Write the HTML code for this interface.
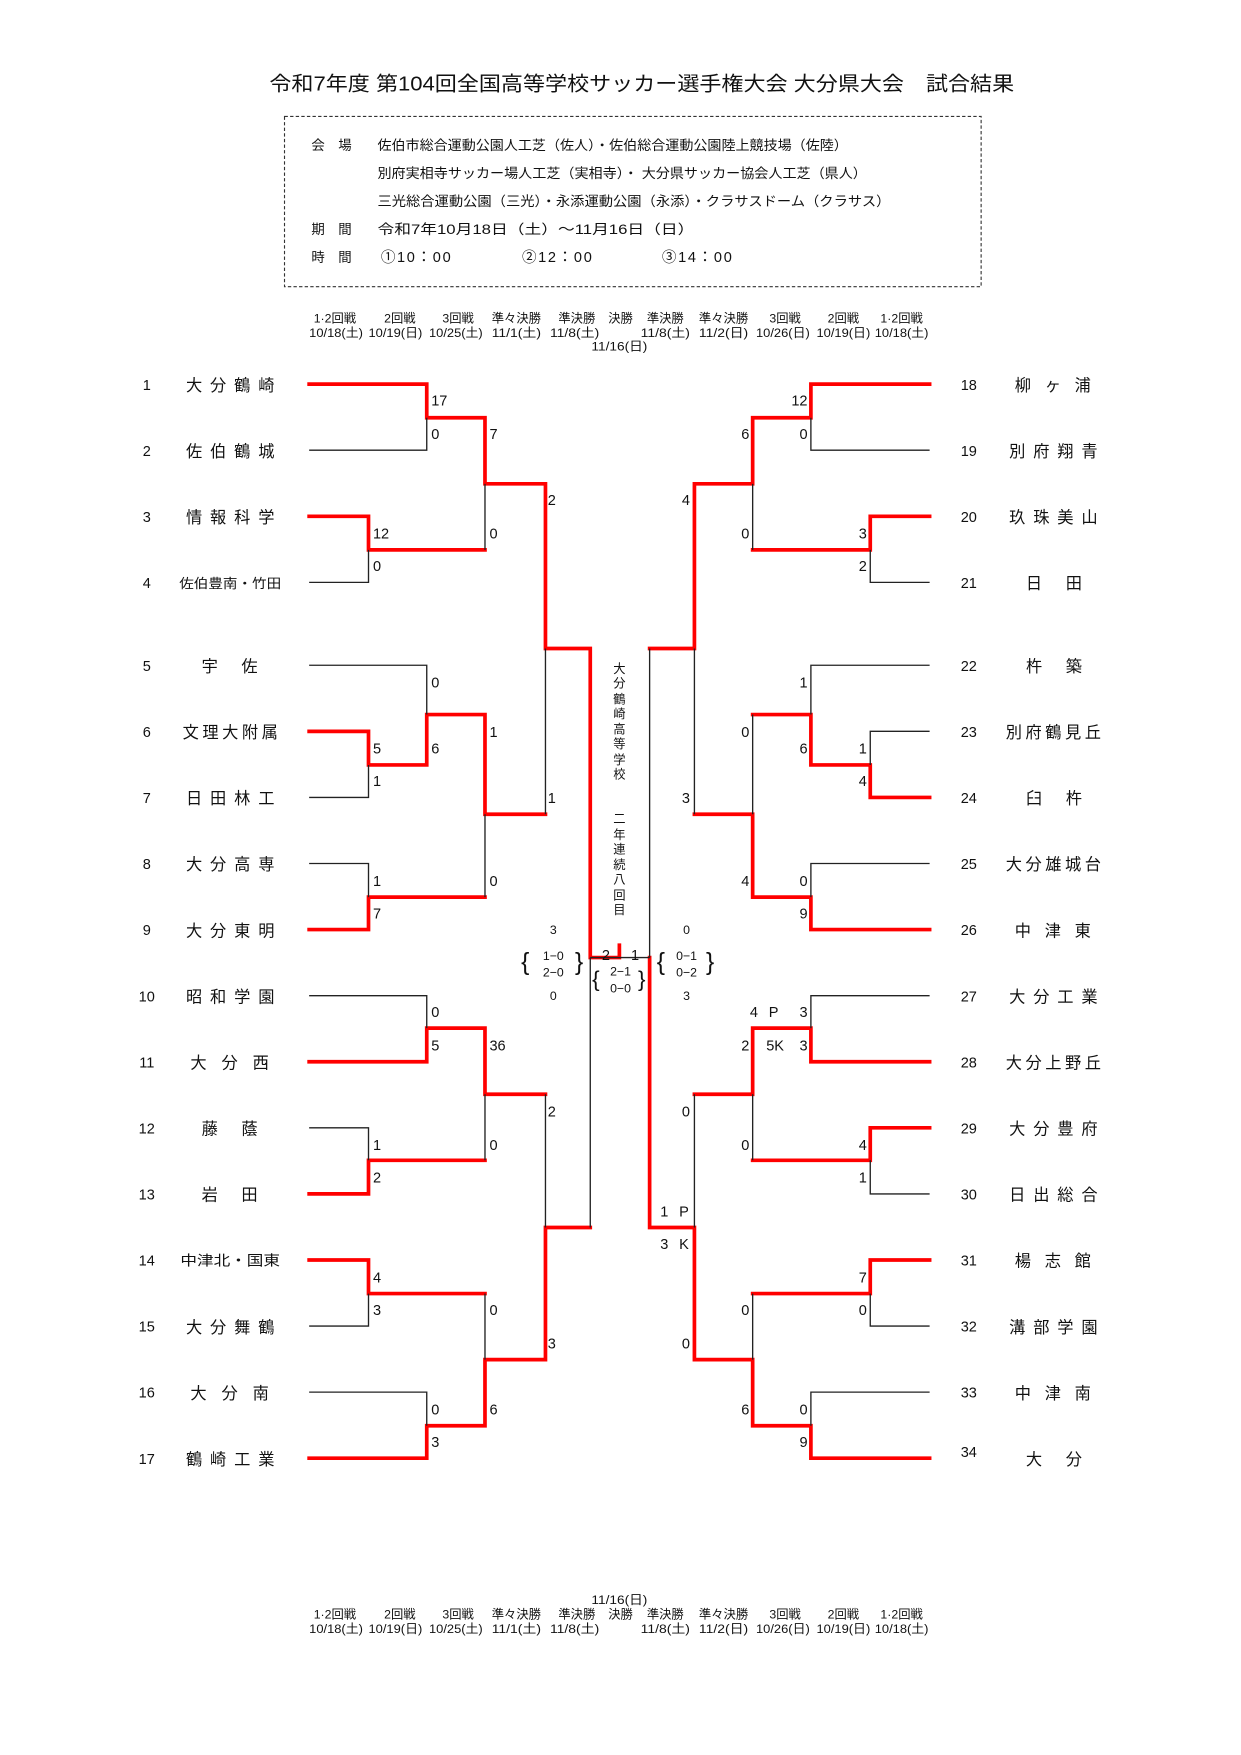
<!DOCTYPE html>
<html><head><meta charset="utf-8"><style>
html,body{margin:0;padding:0;background:#fff}
svg{display:block}
text{font-family:"Liberation Sans","Noto Sans CJK JP",sans-serif;fill:#111}
.r{fill:none;stroke:#f00;stroke-width:3.3;stroke-linecap:square}
.b{fill:none;stroke:#222;stroke-width:1.2}
.s{font-size:13px}
.n{font-size:13px}
.t{font-size:14.5px}
.h{font-size:11px}
.i{font-size:12px}
</style></head><body>
<svg width="1241" height="1755" viewBox="0 0 1108 1567" xmlns="http://www.w3.org/2000/svg">
<text x="573" y="81" text-anchor="middle" font-size="18" textLength="665" lengthAdjust="spacingAndGlyphs">令和7年度 第104回全国高等学校サッカー選手権大会 大分県大会　試合結果</text>
<rect x="254" y="104" width="622" height="152" fill="none" stroke="#333" stroke-width="1" stroke-dasharray="3,2"/>
<g class="i">
<text x="278" y="134">会　場</text><text x="337" y="134" textLength="420" lengthAdjust="spacingAndGlyphs">佐伯市総合運動公園人工芝（佐人）・佐伯総合運動公園陸上競技場（佐陸）</text>
<text x="337" y="159" textLength="437" lengthAdjust="spacingAndGlyphs">別府実相寺サッカー場人工芝（実相寺）・ 大分県サッカー協会人工芝（県人）</text>
<text x="337" y="184" textLength="458" lengthAdjust="spacingAndGlyphs">三光総合運動公園（三光）・永添運動公園（永添）・クラサスドーム（クラサス）</text>
<text x="278" y="209">期　間</text><text x="337" y="209" textLength="283" lengthAdjust="spacingAndGlyphs">令和7年10月18日（土）～11月16日（日）</text>
<text x="278" y="234">時　間</text><text x="340" y="234" font-size="13" letter-spacing="1.5">①10：00</text><text x="466" y="234" font-size="13" letter-spacing="1.5">②12：00</text><text x="591" y="234" font-size="13" letter-spacing="1.5">③14：00</text>
</g>
<g class="h" text-anchor="middle">
<g id="hdr">
<text x="299" y="288">1·2回戦</text><text x="357" y="288">2回戦</text><text x="409" y="288">3回戦</text><text x="461" y="288">準々決勝</text><text x="515" y="288">準決勝</text><text x="554" y="288">決勝</text><text x="594" y="288">準決勝</text><text x="646" y="288">準々決勝</text><text x="701" y="288">3回戦</text><text x="753" y="288">2回戦</text><text x="805" y="288">1·2回戦</text>
<text x="300" y="301" textLength="48" lengthAdjust="spacingAndGlyphs">10/18(土)</text><text x="353" y="301" textLength="48" lengthAdjust="spacingAndGlyphs">10/19(日)</text><text x="407" y="301" textLength="48" lengthAdjust="spacingAndGlyphs">10/25(土)</text><text x="461" y="301" textLength="44" lengthAdjust="spacingAndGlyphs">11/1(土)</text><text x="513" y="301" textLength="44" lengthAdjust="spacingAndGlyphs">11/8(土)</text><text x="594" y="301" textLength="44" lengthAdjust="spacingAndGlyphs">11/8(土)</text><text x="646" y="301" textLength="44" lengthAdjust="spacingAndGlyphs">11/2(日)</text><text x="699" y="301" textLength="48" lengthAdjust="spacingAndGlyphs">10/26(日)</text><text x="753" y="301" textLength="48" lengthAdjust="spacingAndGlyphs">10/19(日)</text><text x="805" y="301" textLength="48" lengthAdjust="spacingAndGlyphs">10/18(土)</text>
</g>
<text x="553" y="313" textLength="50" lengthAdjust="spacingAndGlyphs">11/16(日)</text>
<text x="553" y="1432" textLength="50" lengthAdjust="spacingAndGlyphs">11/16(日)</text>
<use href="#hdr" transform="translate(0,1157)"/>
</g>

<path class="r" d="M276 343H381V373H433V432H487V579H527V855H553V844"/>
<path class="r" d="M276 461H329V491H433"/>
<path class="r" d="M276 653H329V683H381V638H433V727H487"/>
<path class="r" d="M276 830H329V801H433"/>
<path class="r" d="M276 948H381V918H433V977H487"/>
<path class="r" d="M276 1066H329V1036H433"/>
<path class="r" d="M276 1125H329V1155H433"/>
<path class="r" d="M276 1302H381V1273H433V1214H487V1096H527"/>
<path class="r" d="M830 343H724V373H672V432H620V579H580"/>
<path class="r" d="M830 461H777V491H672"/>
<path class="r" d="M830 712H777V683H724V638H672"/>
<path class="r" d="M830 830H724V801H672V727H620"/>
<path class="r" d="M830 948H724V918H672V977H620"/>
<path class="r" d="M830 1007H777V1036H672"/>
<path class="r" d="M830 1125H777V1155H672"/>
<path class="r" d="M830 1302H724V1273H672V1214H620V1096H580V855"/>
<path class="b" d="M276 402H381V373M276 520H329V491M433 491V432M276 594H381V638M276 712H329V683M276 771H329V801M433 801V727M487 727V579M276 889H381V918M276 1007H329V1036M433 1036V977M276 1184H329V1155M276 1243H381V1273M433 1155V1214M487 977V1096M527 855V1096M527 855H580M580 579V855"/>
<path class="b" d="M830 402H724V373M830 520H777V491M672 432V491M620 579V727M830 594H724V638M830 653H777V683M672 638V727M830 771H724V801M830 889H724V918M672 1036V977M830 1066H777V1036M620 977V1096M830 1184H777V1155M830 1243H724V1273M672 1155V1214"/>

<g class="n" text-anchor="middle">
<text x="131" y="348">1</text><text x="131" y="407">2</text><text x="131" y="466">3</text><text x="131" y="525">4</text><text x="131" y="599">5</text><text x="131" y="658">6</text><text x="131" y="717">7</text><text x="131" y="776">8</text><text x="131" y="835">9</text><text x="131" y="894">10</text><text x="131" y="953">11</text><text x="131" y="1012">12</text><text x="131" y="1071">13</text><text x="131" y="1130">14</text><text x="131" y="1189">15</text><text x="131" y="1248">16</text><text x="131" y="1307">17</text>
<text x="865" y="348">18</text><text x="865" y="407">19</text><text x="865" y="466">20</text><text x="865" y="525">21</text><text x="865" y="599">22</text><text x="865" y="658">23</text><text x="865" y="717">24</text><text x="865" y="776">25</text><text x="865" y="835">26</text><text x="865" y="894">27</text><text x="865" y="953">28</text><text x="865" y="1012">29</text><text x="865" y="1071">30</text><text x="865" y="1130">31</text><text x="865" y="1189">32</text><text x="865" y="1248">33</text><text x="865" y="1301">34</text>
</g>
<g class="t" lengthAdjust="spacing">
<text x="166" y="349" textLength="79">大分鶴崎</text>
<text x="166" y="408" textLength="79">佐伯鶴城</text>
<text x="166" y="467" textLength="79">情報科学</text>
<text x="160" y="525" font-size="11.5" textLength="91" lengthAdjust="spacingAndGlyphs">佐伯豊南・竹田</text>
<text x="180" y="600" textLength="50">宇佐</text>
<text x="163" y="659" textLength="85">文理大附属</text>
<text x="166" y="718" textLength="79">日田林工</text>
<text x="166" y="777" textLength="79">大分高専</text>
<text x="166" y="836" textLength="79">大分東明</text>
<text x="166" y="895" textLength="79">昭和学園</text>
<text x="170" y="954" textLength="70">大分西</text>
<text x="180" y="1013" textLength="50">藤蔭</text>
<text x="180" y="1072" textLength="50">岩田</text>
<text x="161" y="1130" font-size="12.5" textLength="89" lengthAdjust="spacingAndGlyphs">中津北・国東</text>
<text x="166" y="1190" textLength="79">大分舞鶴</text>
<text x="170" y="1249" textLength="70">大分南</text>
<text x="166" y="1308" textLength="79">鶴崎工業</text>
<text x="906" y="349" textLength="68">柳ヶ浦</text>
<text x="901" y="408" textLength="79">別府翔青</text>
<text x="901" y="467" textLength="79">玖珠美山</text>
<text x="916" y="526" textLength="50">日田</text>
<text x="916" y="600" textLength="50">杵築</text>
<text x="898" y="659" textLength="85">別府鶴見丘</text>
<text x="916" y="718" textLength="50">臼杵</text>
<text x="898" y="777" textLength="85">大分雄城台</text>
<text x="906" y="836" textLength="68">中津東</text>
<text x="901" y="895" textLength="79">大分工業</text>
<text x="898" y="954" textLength="85">大分上野丘</text>
<text x="901" y="1013" textLength="79">大分豊府</text>
<text x="901" y="1072" textLength="79">日出総合</text>
<text x="906" y="1131" textLength="68">楊志館</text>
<text x="901" y="1190" textLength="79">溝部学園</text>
<text x="906" y="1249" textLength="68">中津南</text>
<text x="916" y="1308" textLength="50">大分</text>
</g>
<g class="s">
<text x="385" y="362">17</text><text x="385" y="392">0</text>
<text x="333" y="481">12</text><text x="333" y="510">0</text>
<text x="437" y="392">7</text><text x="437" y="481">0</text>
<text x="489" y="451">2</text><text x="489" y="717">1</text>
<text x="333" y="673">5</text><text x="333" y="702">1</text>
<text x="385" y="614">0</text><text x="385" y="673">6</text>
<text x="333" y="791">1</text><text x="333" y="820">7</text>
<text x="437" y="658">1</text><text x="437" y="791">0</text>
<text x="385" y="908">0</text><text x="385" y="938">5</text>
<text x="333" y="1027">1</text><text x="333" y="1056">2</text>
<text x="437" y="938">36</text><text x="437" y="1027">0</text>
<text x="333" y="1145">4</text><text x="333" y="1174">3</text>
<text x="385" y="1263">0</text><text x="385" y="1292">3</text>
<text x="437" y="1174">0</text><text x="437" y="1263">6</text>
<text x="489" y="997">2</text><text x="489" y="1204">3</text>
</g>
<g class="s" text-anchor="end">
<text x="721" y="362">12</text><text x="721" y="392">0</text>
<text x="774" y="481">3</text><text x="774" y="510">2</text>
<text x="669" y="392">6</text><text x="669" y="481">0</text>
<text x="616" y="451">4</text><text x="616" y="717">3</text>
<text x="721" y="614">1</text><text x="721" y="673">6</text>
<text x="774" y="673">1</text><text x="774" y="702">4</text>
<text x="721" y="791">0</text><text x="721" y="820">9</text>
<text x="669" y="658">0</text><text x="669" y="791">4</text>
<text x="721" y="908">3</text><text x="721" y="938">3</text>
<text x="698" y="908" letter-spacing="3">4 P</text><text x="700" y="938">5K</text>
<text x="669" y="938">2</text>
<text x="774" y="1027">4</text><text x="774" y="1056">1</text>
<text x="669" y="1027">0</text>
<text x="616" y="997">0</text><text x="616" y="1204">0</text>
<text x="618" y="1086" letter-spacing="3">1 P</text><text x="618" y="1115" letter-spacing="3">3 K</text>
<text x="774" y="1145">7</text><text x="774" y="1174">0</text>
<text x="721" y="1263">0</text><text x="721" y="1292">9</text>
<text x="669" y="1174">0</text><text x="669" y="1263">6</text>
</g>
<g font-size="11" text-anchor="middle">
<text x="494" y="834">3</text><text x="494" y="857">1−0</text><text x="494" y="872">2−0</text><text x="494" y="893">0</text>
<text x="469" y="866" font-size="22">{</text><text x="517" y="866" font-size="22">}</text>
<text x="613" y="834">0</text><text x="613" y="857">0−1</text><text x="613" y="872">0−2</text><text x="613" y="893">3</text>
<text x="590" y="866" font-size="22">{</text><text x="634" y="866" font-size="22">}</text>
<text x="554" y="871">2−1</text><text x="554" y="886">0−0</text>
<text x="532" y="881" font-size="20">{</text><text x="573" y="881" font-size="20">}</text>
</g>
<text x="541" y="857" class="s" text-anchor="middle">2</text><text x="567" y="857" class="s" text-anchor="middle">1</text>
<g font-size="11" text-anchor="middle">
<text x="553" y="601">大</text><text x="553" y="614">分</text><text x="553" y="628">鶴</text><text x="553" y="641">崎</text><text x="553" y="655">高</text><text x="553" y="668">等</text><text x="553" y="682">学</text><text x="553" y="695">校</text>
<text x="553" y="735">二</text><text x="553" y="749">年</text><text x="553" y="762">連</text><text x="553" y="776">続</text><text x="553" y="789">八</text><text x="553" y="803">回</text><text x="553" y="816">目</text>
</g>
</svg>
</body></html>
